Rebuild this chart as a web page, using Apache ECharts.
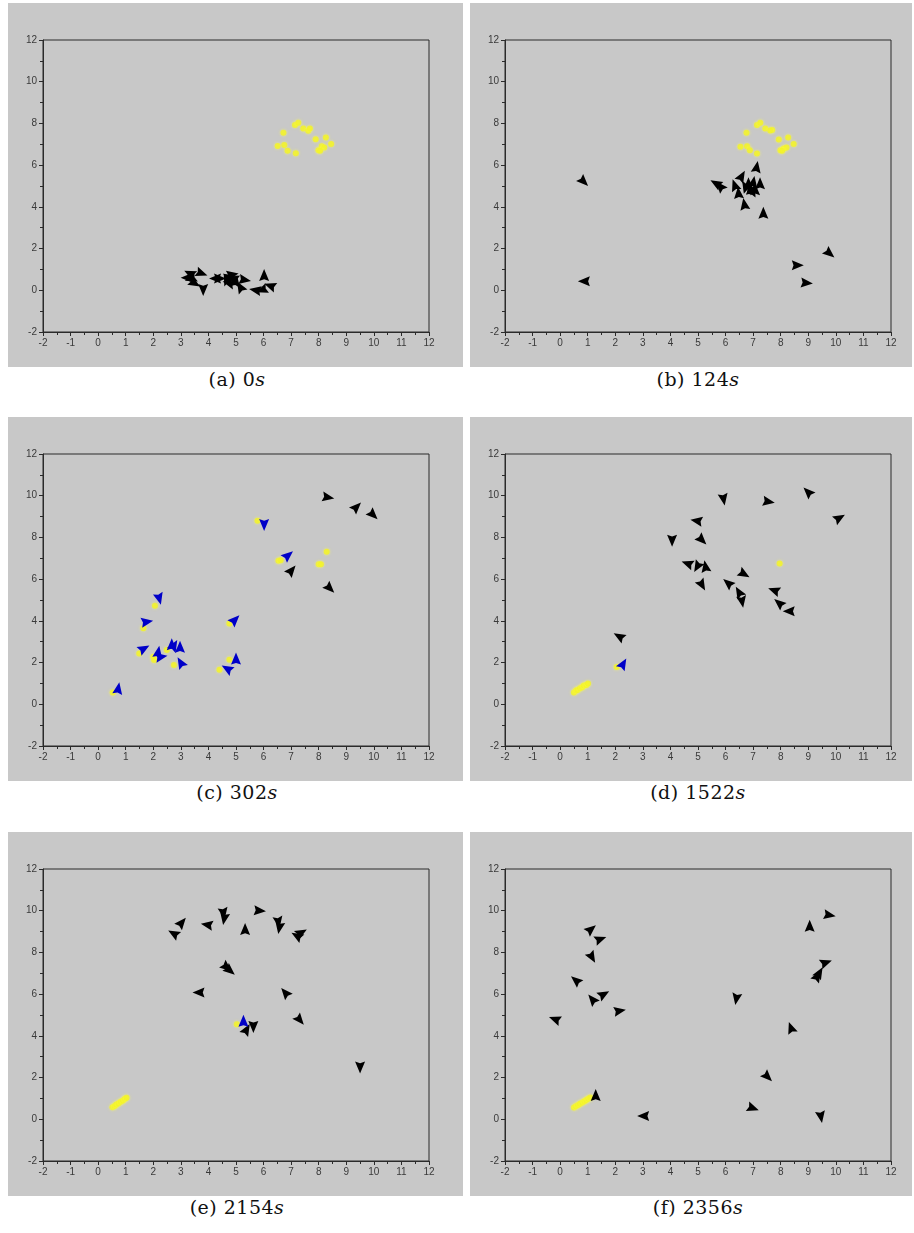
<!DOCTYPE html>
<html>
<head>
<meta charset="utf-8">
<title>robots and tasks</title>
<script src="https://cdn.jsdelivr.net/npm/echarts@6/dist/echarts.min.js"></script>
<style>
  body { margin: 0; background: #fff; width: 914px; height: 1233px; position: relative; overflow: hidden; }
  .panel { position: absolute; background: #c8c8c8; height: 364px; }
  .col0 { left: 8px; width: 455px; }
  .col1 { left: 470px; width: 442px; }
  .cap { position: absolute; width: 200px; margin-left: -100px; text-align: center;
         font-family: "DejaVu Serif", serif; font-size: 19px; color: #111; letter-spacing: 0.5px; }
  .cap i { font-style: italic; }
</style>
</head>
<body>
<div class="panel col0" id="pa" style="top:3px"></div>
<div class="panel col1" id="pb" style="top:3px"></div>
<div class="panel col0" id="pc" style="top:417px"></div>
<div class="panel col1" id="pd" style="top:417px"></div>
<div class="panel col0" id="pe" style="top:832px"></div>
<div class="panel col1" id="pf" style="top:832px"></div>

<div class="cap" style="left:237px;top:368px">(a) 0<i>s</i></div>
<div class="cap" style="left:698px;top:368px">(b) 124<i>s</i></div>
<div class="cap" style="left:237px;top:781px">(c) 302<i>s</i></div>
<div class="cap" style="left:698px;top:781px">(d) 1522<i>s</i></div>
<div class="cap" style="left:237px;top:1196px">(e) 2154<i>s</i></div>
<div class="cap" style="left:698px;top:1196px">(f) 2356<i>s</i></div>

<script>
// robots: [x, y, heading in degrees, 0 = east, counter-clockwise]
// tasks: [x, y]

// (a) 0s
var blackA = [
  [3.21, 0.60, 180], [3.39, 0.81, 20], [3.51, 0.33, -30], [3.76, 0.81, -20],
  [3.81, 0.01, -90], [4.24, 0.57, 180], [4.42, 0.57, 0], [4.72, 0.65, 150],
  [4.78, 0.29, -60], [4.96, 0.57, 30], [5.15, 0.17, 120], [5.33, 0.49, -10],
  [5.69, 0.01, 170], [6.02, 0.73, 90], [5.93, 0.01, 200], [6.23, 0.22, 160],
  [3.35, 0.55, 200], [4.65, 0.45, 250], [5.00, 0.45, 80], [4.88, 0.75, 10]
];
var blueA = [];
var yellowA = [
  [6.72, 7.55], [7.14, 7.92], [7.26, 8.03], [7.44, 7.76], [7.62, 7.65],
  [7.68, 7.76], [7.89, 7.24], [8.26, 7.33], [8.45, 7.01], [7.99, 6.72],
  [8.11, 6.90], [8.20, 6.85], [8.05, 6.69], [6.51, 6.92], [6.75, 6.96],
  [6.87, 6.69], [7.17, 6.57]
];

// (b) 124s
var blackB = [
  [0.86, 5.20, -45], [0.86, 0.43, 180], [8.62, 1.20, 0], [8.95, 0.35, -5],
  [9.78, 1.76, -40], [7.13, 5.92, 80], [6.59, 5.48, 60], [5.64, 5.13, 150],
  [5.80, 5.00, 130], [6.33, 5.05, 110], [6.47, 4.68, 95], [6.68, 4.14, 100],
  [7.37, 3.72, 90], [6.83, 5.13, 90], [7.01, 5.20, 80], [6.89, 4.89, 100],
  [7.07, 4.84, 90], [7.25, 5.13, 90], [6.71, 5.00, 120], [6.99, 4.80, 70]
];
var blueB = [];
var yellowB = [
  [6.76, 7.55], [7.14, 7.92], [7.26, 8.03], [7.44, 7.76], [7.69, 7.68],
  [7.93, 7.23], [8.27, 7.33], [8.47, 7.01], [7.99, 6.72], [8.11, 6.80],
  [8.21, 6.85], [6.54, 6.88], [6.78, 6.91], [6.88, 6.72], [7.14, 6.56],
  [7.62, 7.66], [8.05, 6.69]
];

// (c) 302s
var blackC = [
  [8.35, 9.92, -10], [9.38, 9.47, 45], [9.98, 9.07, -45], [7.02, 6.43, 50],
  [8.41, 5.55, -45]
];
var blueC = [
  [6.02, 8.59, -90], [6.90, 7.15, 40], [2.22, 5.05, -75], [1.78, 3.96, 10],
  [1.67, 2.68, 30], [2.18, 2.52, 80], [2.30, 2.28, 10], [2.67, 2.88, 90],
  [2.76, 2.83, 60], [2.97, 2.76, 90], [2.99, 2.01, 120], [4.97, 4.06, 45],
  [5.00, 2.19, 90], [4.67, 1.71, 150], [0.73, 0.77, 80]
];
var yellowC = [
  [5.78, 8.80], [6.54, 6.88], [6.62, 6.90], [8.00, 6.72], [8.08, 6.72],
  [8.29, 7.31], [2.06, 4.73], [1.64, 3.64], [1.49, 2.44], [2.00, 2.28],
  [2.03, 2.12], [2.49, 2.60], [2.75, 1.88], [4.76, 3.87], [4.76, 2.14],
  [4.40, 1.66], [0.53, 0.57]
];

// (d) 1522s
var blackD = [
  [5.93, 9.82, -80], [7.57, 9.71, -10], [8.98, 10.19, 135], [10.14, 8.94, 30],
  [4.94, 8.80, 170], [4.06, 7.84, -90], [5.15, 7.87, -45], [4.61, 6.75, 160],
  [4.97, 6.59, -120], [5.27, 6.62, 100], [5.15, 5.71, -60], [6.68, 6.24, -30],
  [6.08, 5.82, 140], [6.48, 5.39, 120], [6.60, 4.91, -80], [7.75, 5.47, 160],
  [7.93, 4.86, 140], [8.29, 4.46, 180], [2.13, 3.26, 150]
];
var blueD = [[2.29, 1.95, 60]];
var yellowD = [
  [7.96, 6.75], [2.05, 1.79],
  [0.50, 0.57], [0.58, 0.66], [0.63, 0.69], [0.72, 0.77], [0.80, 0.82],
  [0.86, 0.90], [0.95, 0.93], [1.01, 1.00]
];

// (e) 2154s
var blackE = [
  [2.73, 8.91, 150], [3.04, 9.44, 50], [3.94, 9.33, 170], [4.55, 9.87, -80],
  [4.57, 9.60, -100], [5.33, 9.12, 90], [5.87, 10.00, -5], [6.54, 9.44, -80],
  [6.57, 9.17, -100], [7.20, 8.80, 150], [7.38, 8.96, 30], [4.67, 7.28, -40],
  [4.79, 7.12, -40], [3.64, 6.08, 180], [6.78, 6.08, 130], [7.32, 4.75, -50],
  [5.39, 4.32, 60], [5.63, 4.43, -90], [9.50, 2.48, -90]
];
var blueE = [[5.27, 4.72, 90]];
var yellowE = [
  [5.03, 4.56],
  [0.52, 0.58], [0.60, 0.64], [0.66, 0.71], [0.74, 0.77], [0.82, 0.84],
  [0.90, 0.90], [0.97, 0.98], [1.03, 1.03]
];

// (f) 2356s
var blackF = [
  [1.13, 9.12, 40], [1.47, 8.64, 20], [1.16, 7.76, -60], [0.56, 6.67, 140],
  [-0.20, 4.80, 160], [1.16, 5.76, 130], [1.59, 6.00, 30], [2.17, 5.20, 10],
  [1.29, 1.17, 90], [3.01, 0.16, 180], [7.00, 0.53, -20], [7.53, 2.03, -45],
  [6.39, 5.76, -100], [8.37, 4.40, 110], [9.05, 9.28, 90], [9.78, 9.79, -10],
  [9.65, 7.52, 20], [9.41, 7.04, 60], [9.34, 6.88, 60], [9.46, 0.11, -80]
];
var blueF = [];
var yellowF = [
  [0.50, 0.57], [0.57, 0.62], [0.65, 0.68], [0.72, 0.74], [0.80, 0.80],
  [0.88, 0.87], [0.95, 0.93], [1.02, 0.99], [1.09, 1.05]
];

// chunky arrowhead, tip up, shallow notch at the back
var arrowPath = 'path://M0,0 L7,14 L0,12 L-7,14 Z';

function robotSeries(list, color) {
  return {
    type: 'scatter',
    symbol: arrowPath,
    symbolSize: [10, 12],
    symbolRotate: function (v) { return v[2] - 90; },
    itemStyle: { color: color, opacity: 1 },
    data: list,
    z: 3
  };
}

function axisCommon(interval) {
  return {
    type: 'value',
    min: -2,
    max: 12,
    interval: interval,
    axisLine: { show: true, onZero: false, lineStyle: { color: '#2a2a2a', width: 1 } },
    axisTick: { show: true, length: 4, lineStyle: { color: '#2a2a2a' } },
    minorTick: { show: true, splitNumber: 2, length: 3, lineStyle: { color: '#2a2a2a' } },
    splitLine: { show: false },
    axisLabel: { fontFamily: 'Liberation Sans', fontSize: 10, color: '#3a3a3a', margin: 6 }
  };
}

function makeChart(id, black, blue, yellow) {
  var chart = echarts.init(document.getElementById(id));
  chart.setOption({
    animation: false,
    grid: { left: 35, top: 37, width: 386, height: 292, show: true,
            borderColor: '#2a2a2a', borderWidth: 1, backgroundColor: 'transparent' },
    xAxis: axisCommon(1),
    yAxis: axisCommon(2),
    series: [
      {
        type: 'scatter',
        symbol: 'circle',
        symbolSize: 6,
        itemStyle: { color: '#f2f226', shadowBlur: 3, shadowColor: 'rgba(255,255,80,0.8)' },
        data: yellow,
        z: 2
      },
      robotSeries(black, '#000000'),
      robotSeries(blue, '#0000c8')
    ]
  });
}

makeChart('pa', blackA, blueA, yellowA);
makeChart('pb', blackB, blueB, yellowB);
makeChart('pc', blackC, blueC, yellowC);
makeChart('pd', blackD, blueD, yellowD);
makeChart('pe', blackE, blueE, yellowE);
makeChart('pf', blackF, blueF, yellowF);
</script>
</body>
</html>
